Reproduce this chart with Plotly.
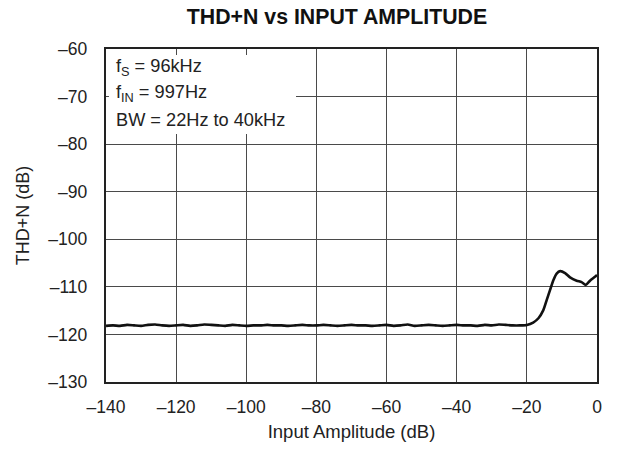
import plotly.graph_objects as go

# Data
x_flat = list(range(-140, -20, 2))
y_flat = [
    -118.2, -118.1, -118.2, -118.0, -118.1, -118.2, -118.0, -117.9, -118.1, -118.2,
    -118.1, -118.0, -118.2, -118.1, -117.9, -118.0, -118.1, -118.2, -118.0, -118.1,
    -118.2, -118.1, -118.1, -118.0, -118.1, -118.1, -118.2, -118.1, -118.0, -118.1,
    -118.1, -118.0, -118.1, -118.2, -118.1, -118.0, -118.1, -118.1, -118.2, -118.1,
    -118.0, -118.2, -118.1, -117.9, -118.2, -118.1, -118.0, -118.1, -118.2, -118.1,
    -118.0, -118.1, -118.1, -118.2, -118.0, -118.1, -117.9, -118.0, -118.1, -118.1,
]
x_rise = [-20, -18.2, -16.7, -15.3, -14.35, -13.4, -12.45, -11.5, -10.5, -9.1,
          -7.7, -5.8, -4.4, -3.2, -2.0, -0.6, 0]
y_rise = [-118.0, -117.5, -116.6, -114.9, -112.8, -110.7, -108.6, -107.2, -106.7, -107.1,
          -108.0, -108.7, -109.0, -109.6, -108.7, -107.9, -107.5]

x_vals = x_flat + x_rise
y_vals = y_flat + y_rise

x_ticks = [-140, -120, -100, -80, -60, -40, -20, 0]
y_ticks = [-60, -70, -80, -90, -100, -110, -120, -130]

title_text = "THD+N vs INPUT AMPLITUDE"
x_title = "Input Amplitude (dB)"
y_title = "THD+N (dB)"
notes = ["f<sub>S</sub> = 96kHz", "f<sub>IN</sub> = 997Hz", "BW = 22Hz to 40kHz"]

FONT = "Liberation Sans, Arial, Helvetica, sans-serif"

W, H = 618, 451

fig = go.Figure()
fig.add_trace(go.Scatter(
    x=x_vals, y=y_vals, mode="lines",
    line=dict(color="#111111", width=2.6, shape="spline", smoothing=0.6),
    showlegend=False, hoverinfo="skip",
))

axis_common = dict(
    showline=True, linecolor="#222222", linewidth=2.2, mirror=True,
    showgrid=True, gridcolor="#4a4a4a", gridwidth=1,
    zeroline=False, ticks="", automargin=False,
    tickfont=dict(family=FONT, size=17.5, color="#222222"),
)

fig.update_xaxes(
    range=[-140, 0], tickmode="array", tickvals=x_ticks,
    ticktext=["\u2013" + str(-v) if v < 0 else str(v) for v in x_ticks],
    title=dict(text=x_title, font=dict(family=FONT, size=18.5, color="#222222"), standoff=9),
    ticklabelstandoff=8,
    **axis_common,
)
fig.update_yaxes(
    range=[-130, -60], tickmode="array", tickvals=y_ticks,
    ticktext=["\u2013" + str(-v) for v in y_ticks],
    title=dict(text=y_title, font=dict(family=FONT, size=18, color="#222222"), standoff=14),
    ticklabelstandoff=13,
    **axis_common,
)

# white box behind the condition notes
fig.add_shape(type="rect", xref="paper", yref="paper",
              x0=0.006, x1=0.387, y0=0.745, y1=0.982,
              fillcolor="white", line=dict(width=0), layer="above")

note_y = [0.945, 0.866, 0.786]
for txt, yy in zip(notes, note_y):
    fig.add_annotation(text=txt, xref="paper", yref="paper",
                       x=0.016, y=yy, xanchor="left", yanchor="middle",
                       showarrow=False,
                       font=dict(family=FONT, size=18.2, color="#222222"))

fig.update_layout(
    width=W, height=H,
    margin=dict(l=106, r=21, t=49, b=69),
    paper_bgcolor="white", plot_bgcolor="white",
    hovermode=False,
    title=dict(text="<b>" + title_text + "</b>", x=337 / W, xanchor="center",
               xref="container", y=1 - 17 / H, yanchor="middle",
               font=dict(family=FONT, size=21.3, color="#111111")),
)

fig.write_html("out.html",
               config={"displayModeBar": False, "staticPlot": True},
               post_script="document.body.style.margin='0';document.body.style.overflow='hidden';")
